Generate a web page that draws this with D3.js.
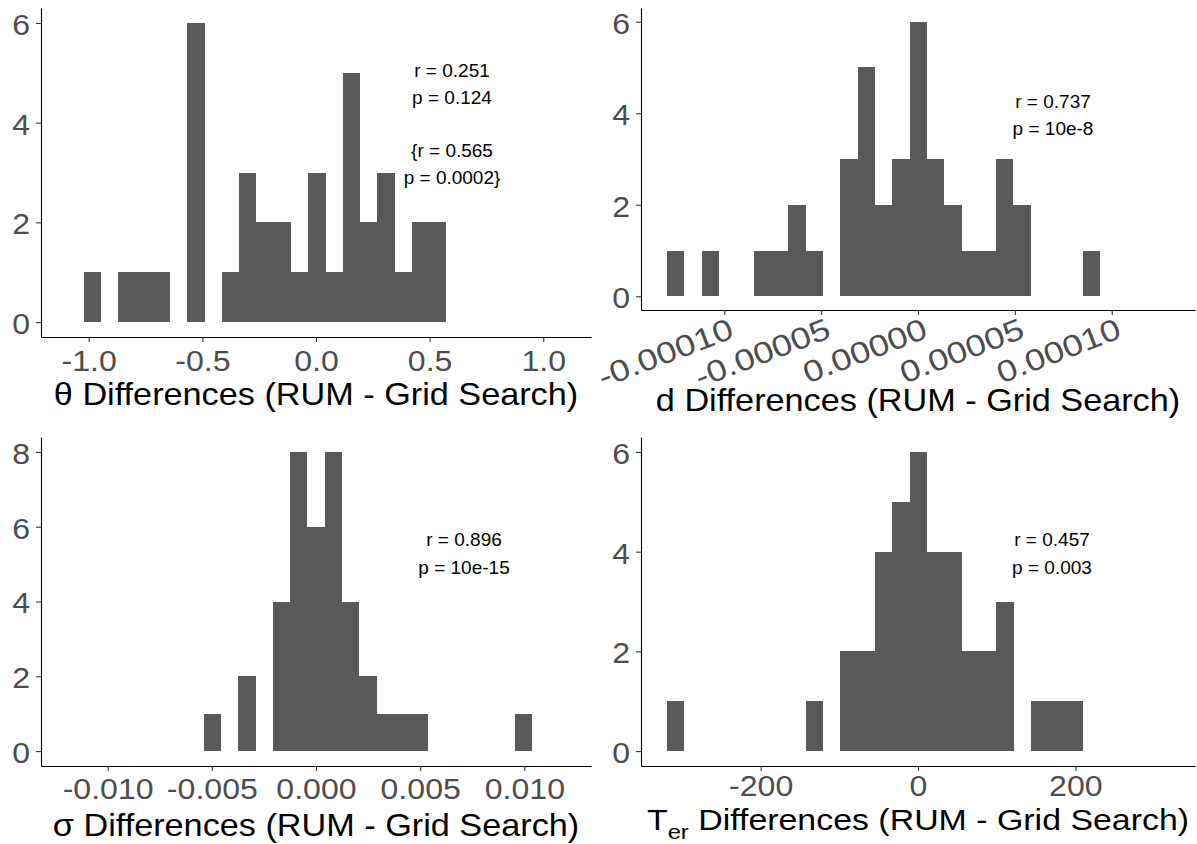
<!DOCTYPE html>
<html>
<head>
<meta charset="utf-8">
<script src="https://d3js.org/d3.v7.min.js"></script>
<style>
  html, body { margin: 0; padding: 0; background: #fff; }
  svg { display: block; font-family: "Liberation Sans", Arial, Helvetica, sans-serif; }
</style>
</head>
<body>
<svg id="chart" width="1197" height="844"></svg>
<script>
// ---------------- DATA ----------------
// theta panel
const thetaBinStart = -1.022;
const thetaBinWidth = 0.076;
const thetaCounts = [1,0,1,1,1,0,6,0,1,3,2,2,1,3,1,5,2,3,1,2,2];
const thetaLimit = 1.1;
const thetaXTicks = [-1.0, -0.5, 0.0, 0.5, 1.0];
const thetaXTickLabels = ["-1.0", "-0.5", "0.0", "0.5", "1.0"];
const thetaYTicks = [0, 2, 4, 6];
const thetaStats = ["r = 0.251", "p = 0.124", "", "{r = 0.565", "p = 0.0002}"];

// d panel
const dBinStart = -0.0001295;
const dBinWidth = 0.00000894;
const dCounts = [1,0,1,0,0,1,1,2,1,0,3,5,2,3,6,3,2,1,1,3,2,0,0,0,1];
const dLimit = 0.00013;
const dXTicks = [-0.0001, -0.00005, 0, 0.00005, 0.0001];
const dXTickLabels = ["-0.00010", "-0.00005", "0.00000", "0.00005", "0.00010"];
const dYTicks = [0, 2, 4, 6];
const dStats = ["r = 0.737", "p = 10e-8"];

// sigma panel
const sigmaBinStart = -0.005386;
const sigmaBinWidth = 0.000829;
const sigmaCounts = [1,0,2,0,4,8,6,8,4,2,1,1,1,0,0,0,0,0,1];
const sigmaLimit = 0.012;
const sigmaXTicks = [-0.01, -0.005, 0, 0.005, 0.01];
const sigmaXTickLabels = ["-0.010", "-0.005", "0.000", "0.005", "0.010"];
const sigmaYTicks = [0, 2, 4, 6, 8];
const sigmaStats = ["r = 0.896", "p = 10e-15"];

// Ter panel
const terBinStart = -319.4;
const terBinWidth = 22.06;
const terCounts = [1,0,0,0,0,0,0,0,1,0,2,2,4,5,6,4,4,2,2,3,0,1,1,1];
const terLimit = 320;
const terXTicks = [-200, 0, 200];
const terXTickLabels = ["-200", "0", "200"];
const terYTicks = [0, 2, 4, 6];
const terStats = ["r = 0.457", "p = 0.003"];

// ---------------- DRAWING ----------------
const svg = d3.select("#chart");
const SX = 1.07;       // slight horizontal stretch of axis text
const TICKFS = 30;
const TITLEFS = 32;
const ANNFS = 19;
const BAR = "#595959";
const TICKCOL = "#4d4d4d";

svg.append("defs").append("clipPath").attr("id", "rightClip")
  .append("rect").attr("x", 598).attr("y", 0).attr("width", 600).attr("height", 844);

function stretchedText(g, x, y, txt, opts) {
  const t = g.append("text")
    .attr("transform", `translate(${x},${y}) scale(${opts.sx},1)`)
    .attr("text-anchor", opts.anchor || "middle")
    .attr("font-size", opts.size)
    .attr("fill", opts.fill || "#000");
  return t.text(txt);
}

function drawPanel(cfg) {
  const g = svg.append("g");
  if (cfg.clip) g.attr("clip-path", "url(#rightClip)");
  const x = d3.scaleLinear().domain([-cfg.limit * 1.1, cfg.limit * 1.1]).range(cfg.xr);
  const ymax = d3.max(cfg.counts);
  const y = d3.scaleLinear().domain([-0.05 * ymax, ymax * 1.05]).range(cfg.yr);

  const bins = cfg.counts.map((c, i) => ({
    x0: cfg.start + i * cfg.width,
    x1: cfg.start + (i + 1) * cfg.width,
    c: c
  })).filter(b => b.c > 0);

  g.append("g").selectAll("rect").data(bins).join("rect")
    .attr("x", d => x(d.x0))
    .attr("width", d => x(d.x1) - x(d.x0))
    .attr("y", d => y(d.c))
    .attr("height", d => y(0) - y(d.c))
    .attr("fill", BAR)
    .attr("shape-rendering", "crispEdges");

  // y axis
  const ya = g.append("g").attr("transform", `translate(${cfg.xr[0]},0)`)
    .call(d3.axisLeft(y).tickValues(cfg.yticks).tickSize(5).tickSizeOuter(0).tickFormat(d3.format("d")));
  ya.select(".domain").attr("stroke", "#000").attr("stroke-width", 1.1);
  ya.selectAll(".tick line").attr("stroke", "#333").attr("stroke-width", 1.1);
  ya.selectAll(".tick text")
    .attr("x", null).attr("dy", null)
    .attr("transform", `translate(-11,0) scale(${SX},1)`)
    .attr("dy", "0.38em")
    .attr("font-size", TICKFS)
    .attr("font-family", null)
    .attr("fill", TICKCOL);

  // x axis
  const xa = g.append("g").attr("transform", `translate(0,${cfg.yr[0]})`)
    .call(d3.axisBottom(x).tickValues(cfg.xticks).tickSize(5).tickSizeOuter(0)
      .tickFormat((d, i) => cfg.xlabels[i]));
  xa.select(".domain").attr("stroke", "#000").attr("stroke-width", 1.1);
  xa.selectAll(".tick line").attr("stroke", "#333").attr("stroke-width", 1.1);
  const xt = xa.selectAll(".tick text")
    .attr("font-size", TICKFS)
    .attr("font-family", null)
    .attr("fill", TICKCOL)
    .attr("y", null).attr("dy", null);
  if (cfg.rotate) {
    xt.attr("text-anchor", "end")
      .attr("transform", `translate(3,7) rotate(-21) scale(1.2,1)`)
      .attr("dy", "0.72em");
  } else {
    xt.attr("transform", `translate(0,${cfg.tickY}) scale(${SX},1)`);
  }

  // axis title
  const cx = (cfg.xr[0] + cfg.xr[1]) / 2;
  const title = stretchedText(g, cx, cfg.titleY, "", { sx: cfg.titleSX || SX, size: cfg.titleFS || TITLEFS });
  if (cfg.sub) {
    title.append("tspan").text(cfg.titleMain);
    title.append("tspan").attr("font-size", 21).attr("dy", 9).text(cfg.sub);
    title.append("tspan").attr("dy", -9).text(cfg.titleRest);
  } else {
    title.text(cfg.title);
  }

  // annotation
  cfg.stats.forEach((s, i) => {
    if (s) stretchedText(g, cfg.annX, cfg.annY + i * cfg.annStep, s, { sx: 1, size: ANNFS });
  });
}

drawPanel({
  counts: thetaCounts, start: thetaBinStart, width: thetaBinWidth, limit: thetaLimit,
  xticks: thetaXTicks, xlabels: thetaXTickLabels, yticks: thetaYTicks,
  xr: [41, 591], yr: [337, 8], tickY: 34, titleY: 405,
  title: "\u03b8 Differences (RUM - Grid Search)",
  stats: thetaStats, annX: 452, annY: 77, annStep: 26.7
});
drawPanel({
  counts: dCounts, start: dBinStart, width: dBinWidth, limit: dLimit,
  xticks: dXTicks, xlabels: dXTickLabels, yticks: dYTicks,
  xr: [641, 1195], yr: [310, 8], titleY: 411, rotate: true, clip: true,
  title: "d Differences (RUM - Grid Search)",
  stats: dStats, annX: 1053, annY: 107.5, annStep: 27.5
});
drawPanel({
  counts: sigmaCounts, start: sigmaBinStart, width: sigmaBinWidth, limit: sigmaLimit,
  xticks: sigmaXTicks, xlabels: sigmaXTickLabels, yticks: sigmaYTicks,
  xr: [41, 591], yr: [766, 437], tickY: 33, titleY: 836,
  title: "\u03c3 Differences (RUM - Grid Search)",
  stats: sigmaStats, annX: 464, annY: 546, annStep: 28
});
drawPanel({
  counts: terCounts, start: terBinStart, width: terBinWidth, limit: terLimit,
  xticks: terXTicks, xlabels: terXTickLabels, yticks: terYTicks,
  xr: [641, 1195], yr: [766, 437], tickY: 30, titleY: 830, clip: true,
  titleFS: 30, titleSX: 1.13,
  sub: "er", titleMain: "T", titleRest: " Differences (RUM - Grid Search)",
  stats: terStats, annX: 1052, annY: 546, annStep: 28
});
</script>
</body>
</html>
